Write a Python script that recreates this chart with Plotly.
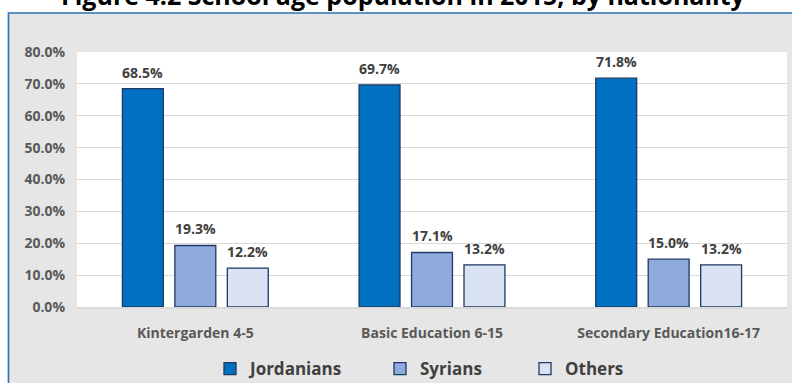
import plotly.graph_objects as go

categories = ["Kintergarden 4-5", "Basic Education 6-15", "Secondary Education16-17"]
series_names = ["Jordanians", "Syrians", "Others"]
jordanians = [0.685, 0.697, 0.718]
syrians = [0.193, 0.171, 0.150]
others = [0.122, 0.132, 0.132]
y_ticks = [0.0, 0.1, 0.2, 0.3, 0.4, 0.5, 0.6, 0.7, 0.8]
title_text = "Figure 4.2 School age population in 2015, by nationality"

colors = ["#0070c0", "#8faadc", "#dae3f3"]
outline = "#1f3864"
FONT = "Open Sans"

W, H = 792, 383
L, R, T, B = 77, 5, 52, 76
PW, PH = W - L - R, H - T - B
BARGAP, GROUPGAP = 0.335, 0.22

def px_x(p):
    return (p - L) / PW

def px_y(p):
    return (H - B - p) / PH

fig = go.Figure()
values = [jordanians, syrians, others]
legends = ["legend", "legend2", "legend3"]
for name, vals, col, lg in zip(series_names, values, colors, legends):
    fig.add_trace(go.Bar(
        x=categories, y=vals, name=name, legend=lg,
        marker=dict(color=col, line=dict(color=outline, width=1.3)),
    ))

# data labels, placed above each bar of the group
slot = PW / len(categories) * (1 - BARGAP) / len(values)
annotations = []
for i, vals in enumerate(values):
    shift = (i - (len(values) - 1) / 2) * slot
    for c, v in zip(categories, vals):
        annotations.append(dict(
            x=c, y=v, xref="x", yref="y", text=f"<b>{v * 100:.1f}%</b>",
            showarrow=False, xanchor="center", yanchor="bottom",
            xshift=shift, yshift=5,
            font=dict(family=FONT, size=14, color="#404040")))

annotations.append(dict(text="<b>" + title_text + "</b>", xref="paper", yref="paper",
                        x=px_x(403), y=px_y(-5), xanchor="center", yanchor="middle",
                        showarrow=False,
                        font=dict(family=FONT, size=25, color="black")))

shapes = [
    dict(type="rect", xref="paper", yref="paper", layer="below",
         x0=px_x(-20), x1=px_x(W + 20), y0=px_y(12.5), y1=px_y(-20),
         fillcolor="white", line=dict(width=0)),
    dict(type="rect", xref="paper", yref="paper", layer="below",
         x0=px_x(-20), x1=px_x(7.5), y0=px_y(H + 20), y1=px_y(-20),
         fillcolor="white", line=dict(width=0)),
    dict(type="rect", xref="paper", yref="paper", layer="above",
         x0=px_x(8.5), x1=px_x(W + 20), y0=px_y(H + 20), y1=px_y(13),
         fillcolor="rgba(0,0,0,0)", line=dict(color="#2e75b6", width=1.6)),
]

leg_common = dict(orientation="h", bgcolor="rgba(0,0,0,0)", borderwidth=0,
                  font=dict(family=FONT, size=17, color="#404040", weight="bold"),
                  xanchor="left", yanchor="middle", y=px_y(369), itemwidth=30)

fig.update_layout(
    template="none",
    width=W, height=H,
    margin=dict(l=L, r=R, t=T, b=B, pad=0, autoexpand=False),
    paper_bgcolor="#e6e6e6",
    plot_bgcolor="white",
    barmode="group",
    bargap=BARGAP,
    bargroupgap=GROUPGAP,
    annotations=annotations,
    xaxis=dict(showgrid=False, showline=True, linecolor="#d9d9d9", linewidth=1.5,
               ticks="", ticklabelstandoff=12, automargin=False,
               tickfont=dict(family=FONT, size=14, color="#595959", weight="bold")),
    yaxis=dict(range=[0, 0.8], tickvals=y_ticks, tickformat=".1%",
               showgrid=True, gridcolor="#d9d9d9", gridwidth=1.3, automargin=False,
               zeroline=False, showline=False, ticks="", ticklabelstandoff=11,
               tickfont=dict(family=FONT, size=14, color="#595959", weight="bold")),
    legend=dict(x=px_x(210), **leg_common),
    legend2=dict(x=px_x(380), **leg_common),
    legend3=dict(x=px_x(525), **leg_common),
    shapes=shapes,
    showlegend=True,
)

fig.write_html("out.html", config={"displayModeBar": False},
               post_script="document.body.style.margin='0';document.body.style.overflow='hidden';")
